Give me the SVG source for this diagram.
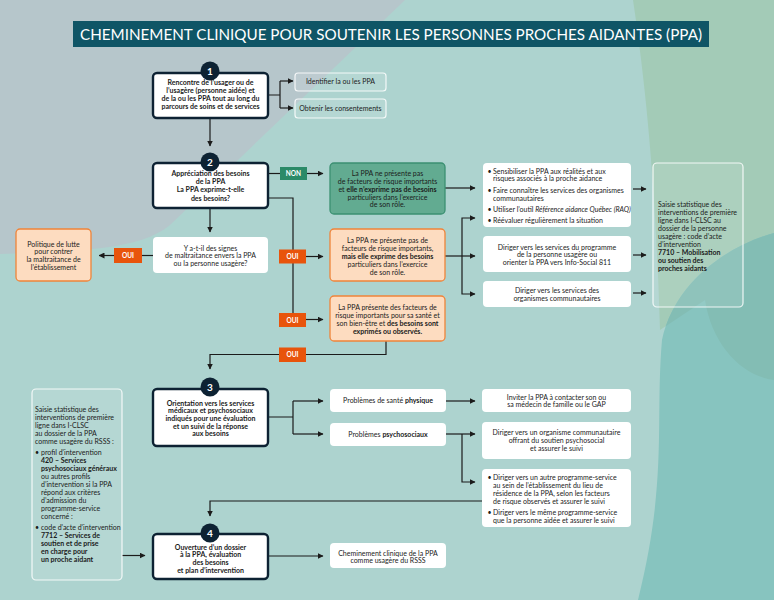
<svg xmlns="http://www.w3.org/2000/svg" width="774" height="600" viewBox="0 0 774 600">
<defs>
<style>
.t{font-family:Lato,"Open Sans","Liberation Sans",sans-serif;font-size:7px;fill:#1b1b1b}
.m{text-anchor:middle}
.b{font-weight:700}
.i{font-style:italic}
.step{fill:#fff;stroke:#0d2233;stroke-width:2.4}
.num{fill:#0d2233}
.numt{font-family:Lato,"Liberation Sans",sans-serif;font-size:10px;font-weight:700;fill:#fff;text-anchor:middle}
.wbox{fill:#fff}
.ghost{fill:#fff;fill-opacity:0.1;stroke:#fff;stroke-opacity:0.85;stroke-width:1.2}
.peach{fill:#fddcc0;stroke:#ef843a;stroke-width:1.3}
.green{fill:#62ab91;stroke:#3b9072;stroke-width:1.3}
.oui{fill:#e8540c}
.non{fill:#2b8a68}
.lt{font-family:Lato,"Liberation Sans",sans-serif;font-size:6.5px;font-weight:700;fill:#fff;text-anchor:middle}
.cn path{fill:none;stroke:#1b1b1b;stroke-width:1.2}
</style>
<marker id="ah" viewBox="0 0 6 6" refX="5.5" refY="3" markerWidth="6" markerHeight="6" markerUnits="userSpaceOnUse" orient="auto"><path d="M0,0 L6,3 L0,6 z" fill="#1b1b1b"/></marker>
<clipPath id="dtc"><path d="M774,233 C730,245 675,280 662,340 C655,420 668,480 638,600 L774,600 Z"/></clipPath>
</defs>

<g id="background">
<rect x="0" y="0" width="774" height="600" fill="#add3cf"/>
<path d="M0,0 H405 L170,225 C140,250 80,251 0,254 Z" fill="#b6c6cb"/>
<path d="M633,0 H774 V380 C742,376 712,345 705,300 L660,330 C656,200 648,100 633,0 Z" fill="#a3cbb7"/>
<path d="M774,233 C730,245 675,280 662,340 C655,420 668,480 638,600 L774,600 Z" fill="#87c4bf"/>
<g clip-path="url(#dtc)"><path d="M633,0 H774 V380 C742,376 712,345 705,300 L660,330 C656,200 648,100 633,0 Z" fill="#83bdb4"/></g>
</g>

<g id="title">
<rect x="73" y="21" width="636" height="26" fill="#0f5566"/>
<text x="391" y="39.5" font-family="Lato,'Open Sans','Liberation Sans',sans-serif" font-size="16" fill="#fff" text-anchor="middle" textLength="622" lengthAdjust="spacingAndGlyphs">CHEMINEMENT CLINIQUE POUR SOUTENIR LES PERSONNES PROCHES AIDANTES (PPA)</text>
</g>

<g id="connectors" class="cn">
<path d="M268,95 H280 M280,81 V108"/>
<path d="M280,81 H293" marker-end="url(#ah)"/>
<path d="M280,108 H293" marker-end="url(#ah)"/>
<path d="M210,118 V146" marker-end="url(#ah)"/>
<path d="M268,173.5 H280"/>
<path d="M307,173.5 H323" marker-end="url(#ah)"/>
<path d="M268,198 H293 V313"/>
<path d="M306,256.5 H323" marker-end="url(#ah)"/>
<path d="M306,319.5 H323" marker-end="url(#ah)"/>
<path d="M210,208 V232" marker-end="url(#ah)"/>
<path d="M153,255.5 H142"/>
<path d="M114,255.5 H99" marker-end="url(#ah)"/>
<path d="M386,341 V354.5 H306"/>
<path d="M279,354.5 H210 V369" marker-end="url(#ah)"/>
<path d="M445,188 H475" marker-end="url(#ah)"/>
<path d="M445,256 H475" marker-end="url(#ah)"/>
<path d="M462,256 V218 H475" marker-end="url(#ah)"/>
<path d="M462,256 V294 H475" marker-end="url(#ah)"/>
<path d="M633,189 H646" marker-end="url(#ah)"/>
<path d="M633,255 H646" marker-end="url(#ah)"/>
<path d="M633,293 H646" marker-end="url(#ah)"/>
<path d="M268,417 H293 M293,401 V434"/>
<path d="M293,401 H323" marker-end="url(#ah)"/>
<path d="M293,434 H323" marker-end="url(#ah)"/>
<path d="M446,401 H475" marker-end="url(#ah)"/>
<path d="M446,434 H475" marker-end="url(#ah)"/>
<path d="M462,434 V482 H475" marker-end="url(#ah)"/>
<path d="M482,501 H210 V516" marker-end="url(#ah)"/>
<path d="M268,556 H323" marker-end="url(#ah)"/>
<path d="M122,555.5 H145" marker-end="url(#ah)"/>
</g>

<g id="labels">
<g id="lbl-non"><rect class="non" x="280" y="167" width="27" height="13"/><text class="lt" x="293.5" y="176">NON</text></g>
<g id="lbl-oui1"><rect class="oui" x="279" y="249.5" width="27" height="14"/><text class="lt" x="292.5" y="259">OUI</text></g>
<g id="lbl-oui2"><rect class="oui" x="279" y="313" width="27" height="14"/><text class="lt" x="292.5" y="322.5">OUI</text></g>
<g id="lbl-oui3"><rect class="oui" x="279" y="347.5" width="27" height="14.5"/><text class="lt" x="292.5" y="357">OUI</text></g>
<g id="lbl-oui4"><rect class="oui" x="114" y="248" width="28" height="15"/><text class="lt" x="128" y="258">OUI</text></g>
</g>

<g id="step1">
<rect class="step" x="153" y="73" width="115" height="45" rx="4"/>
<circle class="num" cx="210" cy="71" r="9.5"/><text class="numt" x="210" y="74.5">1</text>
<text class="t b m" x="210.5" y="85">Rencontre de l’usager ou de</text>
<text class="t b m" x="210.5" y="93">l’usagère (personne aidée) et</text>
<text class="t b m" x="210.5" y="101">de la ou les PPA tout au long du</text>
<text class="t b m" x="210.5" y="109">parcours de soins et de services</text>
</g>

<g id="identifier">
<rect class="ghost" x="295" y="73" width="91" height="18" rx="3"/>
<text class="t m" x="340.5" y="84.3">Identifier la ou les PPA</text>
</g>
<g id="consentements">
<rect class="ghost" x="295" y="99" width="91" height="19" rx="3"/>
<text class="t m" x="340.5" y="110.8">Obtenir les consentements</text>
</g>

<g id="step2">
<rect class="step" x="153" y="163" width="115" height="45" rx="4"/>
<circle class="num" cx="210" cy="162" r="9.5"/><text class="numt" x="210" y="165.5">2</text>
<text class="t b m" x="210.5" y="175.5">Appréciation des besoins</text>
<text class="t b m" x="210.5" y="184">de la PPA</text>
<text class="t b m" x="210.5" y="192.3">La PPA exprime-t-elle</text>
<text class="t b m" x="210.5" y="200.5">des besoins?</text>
</g>

<g id="maltraitance">
<rect class="wbox" x="153" y="237" width="115" height="36" rx="4"/>
<text class="t m" x="210.5" y="250.5">Y a-t-il des signes</text>
<text class="t m" x="210.5" y="258.3">de maltraitance envers la PPA</text>
<text class="t m" x="210.5" y="266">ou la personne usagère?</text>
</g>

<g id="politique">
<rect class="peach" x="16" y="229" width="75" height="52" rx="4"/>
<text class="t m" x="53.5" y="246.5">Politique de lutte</text>
<text class="t m" x="53.5" y="254.3">pour contrer</text>
<text class="t m" x="53.5" y="262">la maltraitance de</text>
<text class="t m" x="53.5" y="269.7">l’établissement</text>
</g>

<g id="ppa-non">
<rect class="green" x="330" y="163" width="115" height="51" rx="4"/>
<text class="t m" x="387.5" y="175.5">La PPA ne présente pas</text>
<text class="t m" x="387.5" y="183.5">de facteurs de risque importants</text>
<text class="t m" x="387.5" y="191.5">et <tspan class="b">elle n’exprime pas de besoins</tspan></text>
<text class="t m" x="387.5" y="199.5">particuliers dans l’exercice</text>
<text class="t m" x="387.5" y="207">de son rôle.</text>
</g>

<g id="ppa-besoins">
<rect class="peach" x="330" y="229" width="115" height="52" rx="4"/>
<text class="t m" x="387.5" y="242.5">La PPA ne présente pas de</text>
<text class="t m" x="387.5" y="250.5">facteurs de risque importants,</text>
<text class="t m b" x="387.5" y="258.5">mais elle exprime des besoins</text>
<text class="t m" x="387.5" y="266.5">particuliers dans l’exercice</text>
<text class="t m" x="387.5" y="274.5">de son rôle.</text>
</g>

<g id="ppa-risque">
<rect class="peach" x="330" y="296" width="115" height="45" rx="4"/>
<text class="t m" x="387.5" y="309.5">La PPA présente des facteurs de</text>
<text class="t m" x="387.5" y="317.5">risque importants pour sa santé et</text>
<text class="t m" x="387.5" y="325.5">son bien-être et <tspan class="b">des besoins sont</tspan></text>
<text class="t m b" x="387.5" y="333.5">exprimés ou observés.</text>
</g>

<g id="sensibiliser">
<rect class="wbox" x="483" y="163" width="148" height="64" rx="4"/>
<text class="t" x="487.5" y="173.5">•</text><text class="t" x="493" y="173.5">Sensibiliser la PPA aux réalités et aux</text>
<text class="t" x="493" y="181">risques associés à la proche aidance</text>
<text class="t" x="487.5" y="192.5">•</text><text class="t" x="493" y="192.5">Faire connaître les services des organismes</text>
<text class="t" x="493" y="200.5">communautaires</text>
<text class="t" x="487.5" y="211.5">•</text><text class="t" x="493" y="211.5">Utiliser l’outil <tspan class="i">Référence aidance Québec (RAQ)</tspan></text>
<text class="t" x="487.5" y="222.5">•</text><text class="t" x="493" y="222.5">Réévaluer régulièrement la situation</text>
</g>

<g id="diriger-programme">
<rect class="wbox" x="483" y="236" width="148" height="36" rx="4"/>
<text class="t m" x="557" y="249.5">Diriger vers les services du programme</text>
<text class="t m" x="557" y="257">de la personne usagère ou</text>
<text class="t m" x="557" y="264.5">orienter la PPA vers Info-Social 811</text>
</g>

<g id="diriger-organismes">
<rect class="wbox" x="483" y="281" width="148" height="26" rx="4"/>
<text class="t m" x="557" y="292.5">Diriger vers les services des</text>
<text class="t m" x="557" y="300.5">organismes communautaires</text>
</g>

<g id="saisie-7710">
<rect class="ghost" x="653" y="163" width="90" height="144" rx="4"/>
<text class="t" x="658" y="206.5">Saisie statistique des</text>
<text class="t" x="658" y="214.5">interventions de première</text>
<text class="t" x="658" y="222.5">ligne dans I-CLSC au</text>
<text class="t" x="658" y="230.5">dossier de la personne</text>
<text class="t" x="658" y="238.5">usagère : code d’acte</text>
<text class="t" x="658" y="246.5">d’intervention</text>
<text class="t b" x="658" y="254.5">7710 – Mobilisation</text>
<text class="t b" x="658" y="262.5">ou soutien des</text>
<text class="t b" x="658" y="270.5">proches aidants</text>
</g>

<g id="step3">
<rect class="step" x="153" y="389" width="115" height="57" rx="4"/>
<circle class="num" cx="210" cy="387" r="9.5"/><text class="numt" x="210" y="390.5">3</text>
<text class="t b m" x="210.5" y="405.5">Orientation vers les services</text>
<text class="t b m" x="210.5" y="413">médicaux et psychosociaux</text>
<text class="t b m" x="210.5" y="420.7">indiqués pour une évaluation</text>
<text class="t b m" x="210.5" y="428.5">et un suivi de la réponse</text>
<text class="t b m" x="210.5" y="436.3">aux besoins</text>
</g>

<g id="physique">
<rect class="wbox" x="330" y="389" width="116" height="23" rx="4"/>
<text class="t m" x="388" y="403.3">Problèmes de santé <tspan class="b">physique</tspan></text>
</g>
<g id="psychosociaux">
<rect class="wbox" x="330" y="423" width="116" height="23" rx="4"/>
<text class="t m" x="388" y="437">Problèmes <tspan class="b">psychosociaux</tspan></text>
</g>

<g id="inviter">
<rect class="wbox" x="482" y="389" width="149" height="23" rx="4"/>
<text class="t m" x="556.5" y="399.5">Inviter la PPA à contacter son ou</text>
<text class="t m" x="556.5" y="407">sa médecin de famille ou le GAP</text>
</g>

<g id="organisme">
<rect class="wbox" x="482" y="422" width="149" height="37" rx="4"/>
<text class="t m" x="556.5" y="434.5">Diriger vers un organisme communautaire</text>
<text class="t m" x="556.5" y="442.8">offrant du soutien psychosocial</text>
<text class="t m" x="556.5" y="451">et assurer le suivi</text>
</g>

<g id="autre-programme">
<rect class="wbox" x="482" y="469" width="149" height="58" rx="4"/>
<text class="t" x="487.5" y="479.5">•</text><text class="t" x="493" y="479.5">Diriger vers un autre programme-service</text>
<text class="t" x="493" y="487.5">au sein de l’établissement du lieu de</text>
<text class="t" x="493" y="495.5">résidence de la PPA, selon les facteurs</text>
<text class="t" x="493" y="503.5">de risque observés et assurer le suivi</text>
<text class="t" x="487.5" y="514.5">•</text><text class="t" x="493" y="514.5">Diriger vers le même programme-service</text>
<text class="t" x="493" y="522.5">que la personne aidée et assurer le suivi</text>
</g>

<g id="saisie-420">
<rect class="ghost" x="32" y="389" width="90" height="191" rx="4"/>
<text class="t" x="35" y="412.4">Saisie statistique des</text>
<text class="t" x="35" y="420.4">interventions de première</text>
<text class="t" x="35" y="428.4">ligne dans I-CLSC</text>
<text class="t" x="35" y="436.4">au dossier de la PPA</text>
<text class="t" x="35" y="443.8">comme usagère du RSSS :</text>
<text class="t" x="35" y="455.4">•</text><text class="t" x="41" y="455.4">profil d’intervention</text>
<text class="t b" x="41" y="463.4">420 – Services</text>
<text class="t b" x="41" y="471.4">psychosociaux généraux</text>
<text class="t" x="41" y="479.4">ou autres profils</text>
<text class="t" x="41" y="487.4">d’intervention si la PPA</text>
<text class="t" x="41" y="495.4">répond aux critères</text>
<text class="t" x="41" y="503.4">d’admission du</text>
<text class="t" x="41" y="511.4">programme-service</text>
<text class="t" x="41" y="519.4">concerné :</text>
<text class="t" x="35" y="530.4">•</text><text class="t" x="41" y="530.4">code d’acte d’intervention</text>
<text class="t b" x="41" y="538.4">7712 – Services de</text>
<text class="t b" x="41" y="546.4">soutien et de prise</text>
<text class="t b" x="41" y="554.4">en charge pour</text>
<text class="t b" x="41" y="561.8">un proche aidant</text>
</g>

<g id="step4">
<rect class="step" x="153" y="534" width="115" height="45" rx="4"/>
<circle class="num" cx="210" cy="533" r="9.5"/><text class="numt" x="210" y="536.5">4</text>
<text class="t b m" x="210.5" y="549.5">Ouverture d’un dossier</text>
<text class="t b m" x="210.5" y="557">à la PPA, évaluation</text>
<text class="t b m" x="210.5" y="565">des besoins</text>
<text class="t b m" x="210.5" y="572.5">et plan d’intervention</text>
</g>

<g id="cheminement-rsss">
<rect class="wbox" x="330" y="543" width="116" height="25" rx="4"/>
<text class="t m" x="388" y="555.5">Cheminement clinique de la PPA</text>
<text class="t m" x="388" y="563.3">comme usagère du RSSS</text>
</g>
</svg>
